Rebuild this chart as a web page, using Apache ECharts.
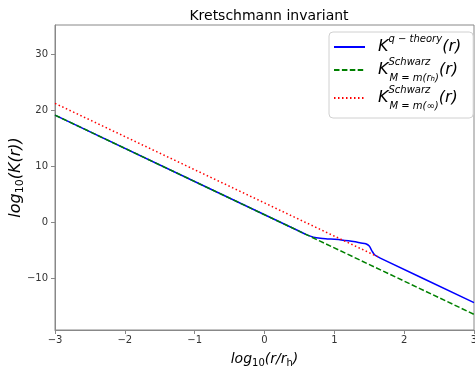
<!DOCTYPE html>
<html>
<head>
<meta charset="utf-8">
<script src="https://cdn.jsdelivr.net/npm/echarts@6/dist/echarts.min.js"></script>
<style>
  html, body { margin: 0; padding: 0; background: #fff; }
  #chart { width: 475px; height: 366px; }
</style>
</head>
<body>
<div id="chart"></div>
<script>
// values (log10 r/rh, log10 K)
const xBlue = [-3, 0.5, 0.6, 0.7, 0.8, 0.9, 1.0, 1.1, 1.2, 1.3, 1.38, 1.45, 1.5, 1.54, 1.58, 1.65, 3];
const yBlue = [19.1, -1.66, -2.25, -2.7, -2.92, -3.02, -3.1, -3.2, -3.35, -3.55, -3.75, -3.9, -4.3, -5.2, -5.9, -6.4, -14.4];
const xGreen = [-3, 3];
const yGreen = [19.1, -16.5];
const xRed = [-3, 1.62];
const yRed = [21.2, -6.2];
const yTicks = [-10, 0, 10, 20, 30];

const FONT = "DejaVu Sans";
const pair = (xs, ys) => xs.map((x, i) => [x, ys[i]]);
const minus = v => String(v).replace("-", "\u2212");

const legendText = {
  q: "{k|K}{sup|q \u2212 theory}{p|(r)}",
  h: "{k|K}{sw|Schwarz}{sub|M = m(r}{ss|h}{sub|)}{p|(r)}",
  inf: "{k|K}{sw|Schwarz}{sub|M = m(\u221e)}{p|(r)}"
};

const chart = echarts.init(document.getElementById("chart"));

chart.setOption({
  animation: false,
  title: {
    text: "Kretschmann invariant",
    left: 264,
    top: 4,
    textAlign: "center",
    textStyle: { fontFamily: FONT, fontSize: 14, fontWeight: "normal", color: "#000" }
  },
  grid: {
    left: 55, right: 1, top: 25, bottom: 36,
    outerBoundsMode: "none",
    containLabel: false,
    show: true, borderColor: "#888", borderWidth: 1
  },
  legend: {
    orient: "vertical",
    left: 329,
    top: 32,
    itemWidth: 31,
    itemHeight: 14,
    itemGap: 2,
    padding: [2, 12, 7, 4],
    backgroundColor: "#fff",
    borderColor: "#d0d0d0",
    borderWidth: 1,
    borderRadius: 4,
    itemStyle: { opacity: 0 },
    formatter: name => legendText[name],
    textStyle: {
      fontFamily: FONT,
      color: "#000",
      rich: {
        k: { fontFamily: FONT, fontStyle: "italic", fontSize: 16, lineHeight: 26, padding: [0, 0, 0, 8] },
        p: { fontFamily: FONT, fontStyle: "italic", fontSize: 16, lineHeight: 26 },
        sup: { fontFamily: FONT, fontStyle: "italic", fontSize: 10, lineHeight: 16, verticalAlign: "top" },
        sw: { fontFamily: FONT, fontStyle: "italic", fontSize: 10, lineHeight: 15, verticalAlign: "top", width: 1 },
        sub: { fontFamily: FONT, fontStyle: "italic", fontSize: 10, lineHeight: 12, verticalAlign: "bottom" },
        ss: { fontFamily: FONT, fontStyle: "italic", fontSize: 7, lineHeight: 8, verticalAlign: "bottom" }
      }
    }
  },
  xAxis: {
    type: "value",
    min: -3,
    max: 3,
    interval: 1,
    name: "{i|log}{s|10}{i|(r/r}{s|h}{i|)}",
    nameLocation: "middle",
    nameGap: 20,
    nameMoveOverlap: false,
    nameTextStyle: {
      rich: {
        i: { fontFamily: FONT, fontStyle: "italic", fontSize: 14, color: "#000", lineHeight: 18 },
        s: { fontFamily: FONT, fontSize: 10, color: "#000", lineHeight: 12, verticalAlign: "bottom" }
      }
    },
    axisLine: { onZero: false, lineStyle: { color: "#888" } },
    axisTick: { length: 4, lineStyle: { color: "#888" } },
    axisLabel: { fontFamily: FONT, fontSize: 10, color: "#333", margin: 5, formatter: minus },
    splitLine: { show: false }
  },
  yAxis: {
    type: "value",
    min: -19.3,
    max: 35.2,
    name: "{i|log}{s|10}{i|(K(r))}",
    nameLocation: "middle",
    nameGap: 29,
    nameMoveOverlap: false,
    nameTextStyle: {
      rich: {
        i: { fontFamily: FONT, fontStyle: "italic", fontSize: 16, color: "#000", lineHeight: 20 },
        s: { fontFamily: FONT, fontSize: 11, color: "#000", lineHeight: 13, verticalAlign: "bottom" }
      }
    },
    axisLine: { show: true, onZero: false, lineStyle: { color: "#888" } },
    axisTick: { show: true, length: 4, customValues: yTicks, lineStyle: { color: "#888" } },
    axisLabel: { fontFamily: FONT, fontSize: 10, color: "#333", margin: 7, customValues: yTicks, formatter: minus },
    splitLine: { show: false }
  },
  series: [
    {
      name: "q",
      type: "line",
      data: pair(xBlue, yBlue),
      symbol: "none",
      smooth: 0.3,
      lineStyle: { color: "#0000ff", width: 1.5 },
      itemStyle: { color: "#0000ff" }
    },
    {
      name: "h",
      type: "line",
      data: pair(xGreen, yGreen),
      symbol: "none",
      lineStyle: { color: "#008000", width: 1.5, type: [5.5, 2.4] },
      itemStyle: { color: "#008000" }
    },
    {
      name: "inf",
      type: "line",
      data: pair(xRed, yRed),
      symbol: "none",
      lineStyle: { color: "#ff0000", width: 1.5, type: [1.5, 2.5] },
      itemStyle: { color: "#ff0000" }
    }
  ]
});
</script>
</body>
</html>
